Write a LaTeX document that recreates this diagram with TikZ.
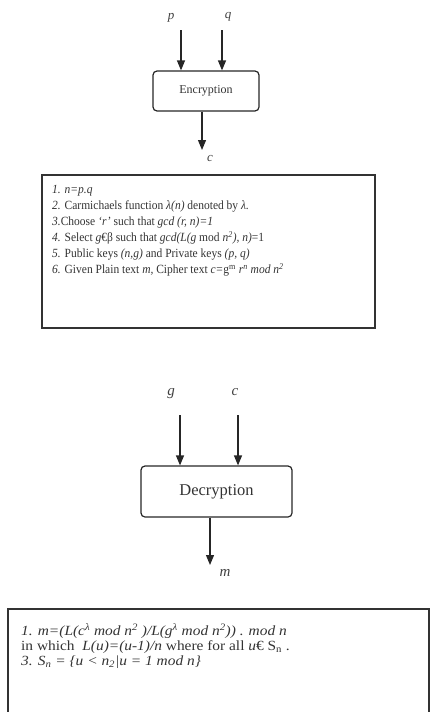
\documentclass[tikz,border=0pt]{standalone}
\usepackage{fontspec}
\setmainfont{Liberation Serif}
\usetikzlibrary{arrows.meta}
\begin{document}
\begin{tikzpicture}[x=1pt,y=-1pt,
  proc/.style={draw=black!85, line width=1.2pt, rounded corners=4pt, inner sep=0pt, text=black!80},
  flow/.style={draw=black!85, line width=1.2pt, -{Triangle[length=10pt,width=8pt]}},
  lbl/.style={text=black!75, font=\fontsize{13}{15}\selectfont\itshape, inner sep=0pt},
  panel/.style={draw=black!80, line width=1.5pt, inner sep=0pt},
  txt/.style={anchor=north west, align=left, text=black!80, inner sep=0pt}]
\useasboundingbox (0,0) rectangle (430,712);
\clip (0,0) rectangle (430,712);

% ---------- Encryption ----------
\node[proc, minimum width=106pt, minimum height=40pt, font=\fontsize{12}{14}\selectfont] (enc) at (206,91) {Encryption};
\node[lbl] (p) at (171,18) {p};
\node[lbl] (q) at (228,17) {q};
\node[lbl] (c1) at (210,158) {c};
\coordinate (pin) at (181,30);
\coordinate (qin) at (222,30);
\coordinate (cout) at (202,150);
\draw[flow] (pin) -- (pin |- enc.north);
\draw[flow] (qin) -- (qin |- enc.north);
\draw[flow] (enc.south -| cout) -- (cout);

\node[panel, minimum width=333pt, minimum height=153pt, anchor=north west] (encbox) at (41,174) {};
\node[txt, font=\fontsize{12.5}{16}\selectfont\addfontfeature{FakeStretch=0.92}] (enctext) at (52,185) {%
\textit{1. n=p.q}\\
\textit{2.} Carmichaels function \textit{λ(n)} denoted by \textit{λ.}\\
\textit{3.}Choose \textit{‘r’} such that \textit{gcd (r, n)=1}\\
\textit{4.} Select \textit{g}€β such that \textit{gcd(L(g} mod \textit{n\textsuperscript{2}), n)}=1\\
\textit{5.} Public keys \textit{(n,g)} and Private keys \textit{(p, q)}\\
\textit{6.} Given Plain text \textit{m,} Cipher text \textit{c=}g\textsuperscript{m} \textit{r\textsuperscript{n} mod n\textsuperscript{2}}};

% ---------- Decryption ----------
\node[proc, minimum width=151pt, minimum height=51pt, font=\fontsize{16.5}{19}\selectfont] (dec) at (216.5,491.5) {Decryption};
\node[lbl, font=\fontsize{15}{17}\selectfont\itshape] (g) at (171,394) {g};
\node[lbl, font=\fontsize{15}{17}\selectfont\itshape] (c2) at (235,392) {c};
\node[lbl, font=\fontsize{15}{17}\selectfont\itshape] (m) at (225,573) {m};
\coordinate (gin) at (180,415);
\coordinate (cin) at (238,415);
\coordinate (mout) at (210,565);
\draw[flow] (gin) -- (gin |- dec.north);
\draw[flow] (cin) -- (cin |- dec.north);
\draw[flow] (dec.south -| mout) -- (mout);

\node[panel, minimum width=421pt, minimum height=120pt, anchor=north west] (decbox) at (7,608) {};
\node[txt, font=\fontsize{14}{15}\selectfont\addfontfeature{FakeStretch=1.1}] (dectext) at (21,623) {%
\textit{1. m=(L(c\textsuperscript{λ} mod n\textsuperscript{2} )/L(g\textsuperscript{λ} mod n\textsuperscript{2})) . mod n}\\
in which \ \textit{L(u)=(u-1)/n} where for all \textit{u}€ S\textsubscript{n} .\\
\textit{3. S\textsubscript{n} = \{u < n\textsubscript{2}|u = 1 mod n\}}};
\end{tikzpicture}
\end{document}
